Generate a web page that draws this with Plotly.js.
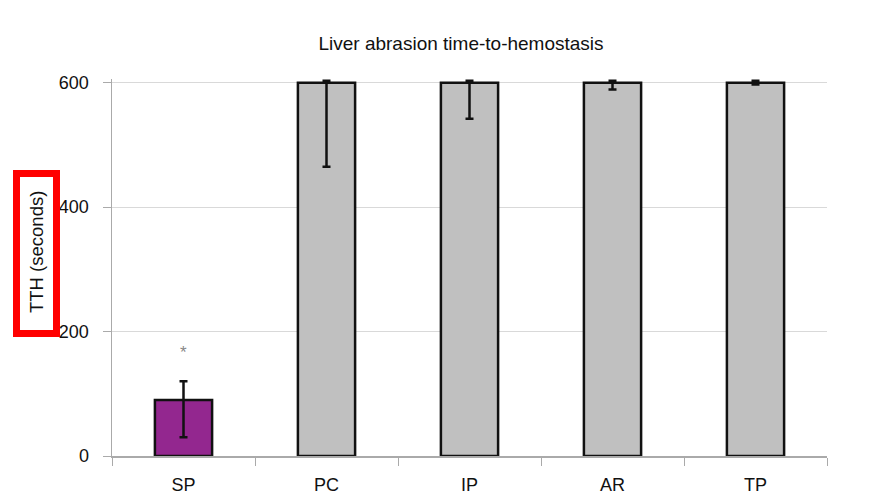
<!DOCTYPE html>
<html>
<head>
<meta charset="utf-8">
<script src="https://cdn.plot.ly/plotly-3.0.1.min.js"></script>
<style>html,body{margin:0;padding:0;background:#fff;}#chart{width:871px;height:496px;}</style>
</head>
<body>
<div id="chart"></div>
<script>
const categories = ["SP", "PC", "IP", "AR", "TP"];
const tthValues = [90, 600, 600, 600, 600];
const errPlus = [30, 3, 3, 3, 3];
const errMinus = [60, 135, 58, 11, 3];
const barColors = ["#93278F", "#C0C0C0", "#C0C0C0", "#C0C0C0", "#C0C0C0"];
const sigLabels = ["*", "", "", "", ""];
const sigHeights = [167, null, null, null, null];
const yTicks = [0, 200, 400, 600];

const L = 112, R = 827, T = 79, B = 456;
function px(x){ return (x - L) / (R - L); }
function py(y){ return (B - y) / (B - T); }

const trace = {
  type: "bar",
  x: categories,
  y: tthValues,
  width: 0.4,
  marker: { color: barColors, line: { color: "#111", width: 2.5 } },
  error_y: {
    type: "data", symmetric: false,
    array: errPlus, arrayminus: errMinus,
    color: "#111", thickness: 2.5, width: 4
  },
  hoverinfo: "x+y"
};

const annotations = [];
categories.forEach((c, i) => {
  if (sigLabels[i]) {
    annotations.push({ x: c, y: sigHeights[i], xref: "x", yref: "y", text: sigLabels[i],
      showarrow: false, font: { family: "Liberation Sans, Arial", size: 17, color: "#888" } });
  }
});
annotations.push({ xref: "paper", yref: "paper", x: px(36), y: py(252), text: "TTH (seconds)",
  textangle: -90, showarrow: false, xanchor: "center", yanchor: "middle",
  font: { family: "Liberation Sans, Arial", size: 18.5, color: "#111" } });

const layout = {
  width: 871, height: 496,
  margin: { l: L, r: 871 - R, t: T, b: 496 - B, pad: 0 },
  paper_bgcolor: "#fff", plot_bgcolor: "#fff",
  font: { family: "Liberation Sans, Arial", color: "#111", size: 18 },
  title: { text: "Liver abrasion time-to-hemostasis", x: 461 / 871, xanchor: "center",
    y: 1 - 43 / 496, yanchor: "middle", font: { size: 19, color: "#111" } },
  showlegend: false,
  xaxis: {
    type: "category", tickson: "boundaries", ticks: "outside", ticklen: 8, tickcolor: "#aaa",
    showline: true, linecolor: "#aaa", linewidth: 1.5, showgrid: false,
    tickfont: { size: 18, color: "#111" }, range: [-0.5, 4.5], ticklabelstandoff: 12
  },
  yaxis: {
    range: [0, 606], tickvals: yTicks, ticks: "outside", ticklen: 8, tickcolor: "#aaa",
    showline: true, linecolor: "#aaa", linewidth: 1.5, showgrid: true, gridcolor: "#d9d9d9",
    gridwidth: 1, zeroline: false, tickfont: { size: 18, color: "#111" }, ticklabelstandoff: 10
  },
  annotations: annotations,
  shapes: [{
    type: "rect", xref: "paper", yref: "paper",
    x0: px(16.5), x1: px(56.5), y0: py(333.5), y1: py(173.5),
    line: { color: "#FF0000", width: 7 }, fillcolor: "rgba(0,0,0,0)", layer: "above"
  }]
};

Plotly.newPlot("chart", [trace], layout, { displayModeBar: false, staticPlot: true });
</script>
</body>
</html>
